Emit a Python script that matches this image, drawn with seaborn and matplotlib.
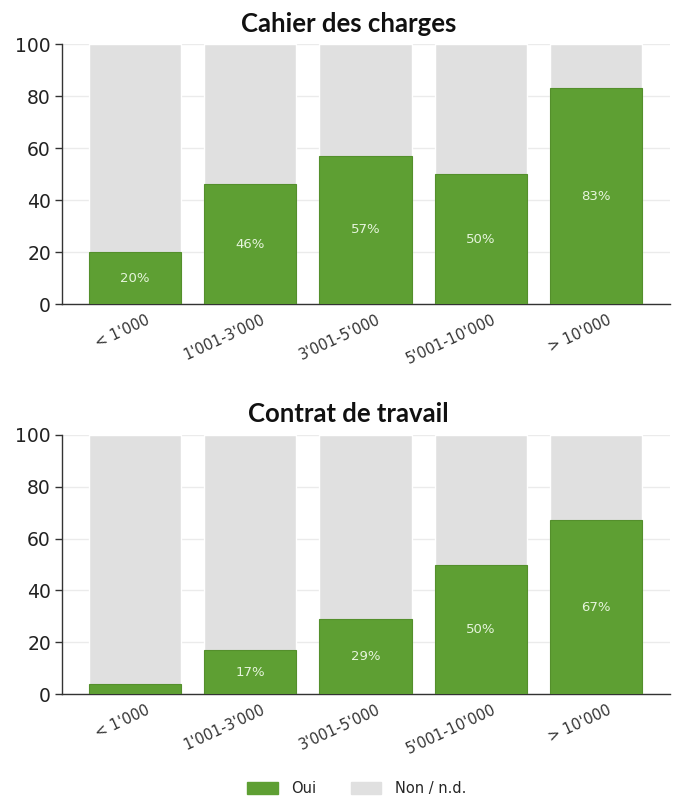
import matplotlib
matplotlib.use("Agg")
import matplotlib.pyplot as plt
import matplotlib.transforms as mtransforms
from matplotlib.patches import Patch
import seaborn as sns
import pandas as pd

sns.set_theme(style="white")
plt.rcParams["font.family"] = ["DejaVu Sans"]

categories = ["< 1'000", "1'001-3'000", "3'001-5'000", "5'001-10'000", "> 10'000"]
cahier_oui = [20, 46, 57, 50, 83]
contrat_oui = [4, 17, 29, 50, 67]
titles = ["Cahier des charges", "Contrat de travail"]
labels_cahier = ["20%", "46%", "57%", "50%", "83%"]
labels_contrat = ["", "17%", "29%", "50%", "67%"]
legend_labels = ["Oui", "Non / n.d."]
y_ticks = [0, 20, 40, 60, 80, 100]

GREEN = "#5e9f33"
GREEN_EDGE = "#548f2c"
GREY = "#e0e0e0"

fig = plt.figure(figsize=(6.75, 7.98), dpi=100)
ax_top = fig.add_axes([0.0919, 0.619, 0.9007, 0.3258])
ax_bot = fig.add_axes([0.0919, 0.1303, 0.9007, 0.3246])

panels = [
    (ax_top, cahier_oui, labels_cahier, titles[0], 0.970),
    (ax_bot, contrat_oui, labels_contrat, titles[1], 0.481),
]

for ax, oui, labels, title, ty in panels:
    df = pd.DataFrame({"cat": categories, "oui": oui})
    df["total"] = [o + (100 - o) for o in oui]
    ax.yaxis.grid(True, color="#ebebeb", linewidth=1.0, zorder=0)
    ax.set_axisbelow(True)
    sns.barplot(data=df, x="cat", y="total", color=GREY, width=0.8,
                saturation=1, ax=ax, zorder=2)
    sns.barplot(data=df, x="cat", y="oui", color=GREEN, width=0.8,
                saturation=1, ax=ax, zorder=3, edgecolor=GREEN_EDGE,
                linewidth=0.8)
    for i, (v, lab) in enumerate(zip(oui, labels)):
        if lab:
            ax.text(i, v / 2, lab, ha="center", va="center", fontsize=9.5,
                    color="#e6f5dc", zorder=4)
    ax.set_xlim(-0.63, 4.64)
    ax.set_ylim(0, 100)
    ax.set_yticks(y_ticks)
    ax.set_xlabel("")
    ax.set_ylabel("")
    for side in ["top", "right"]:
        ax.spines[side].set_visible(False)
    for side in ["left", "bottom"]:
        ax.spines[side].set_color("#333333")
        ax.spines[side].set_linewidth(1.0)
    ax.tick_params(axis="y", left=True, length=5, width=1, color="#333333",
                   labelsize=13.5, labelcolor="#222222", pad=3)
    ax.tick_params(axis="x", bottom=False, labelsize=10.5, labelcolor="#333333",
                   pad=0)
    offset = mtransforms.ScaledTranslation(0.11, 0, fig.dpi_scale_trans)
    for t in ax.get_xticklabels():
        t.set_rotation(25)
        t.set_ha("right")
        t.set_rotation_mode("anchor")
        t.set_transform(t.get_transform() + offset)
    fig.text(0.516, ty, title, ha="center", va="center", fontsize=18.5,
             fontweight="bold", family="Lato", color="#111111")

handles = [Patch(facecolor=GREEN, edgecolor=GREEN), Patch(facecolor=GREY, edgecolor=GREY)]
fig.legend(handles, legend_labels, loc="center", bbox_to_anchor=(0.528, 0.012),
           ncol=2, frameon=False, fontsize=10.5, handlelength=2.1, handleheight=0.9,
           columnspacing=2.4, handletextpad=0.9)

fig.savefig("out.png", dpi=100)
